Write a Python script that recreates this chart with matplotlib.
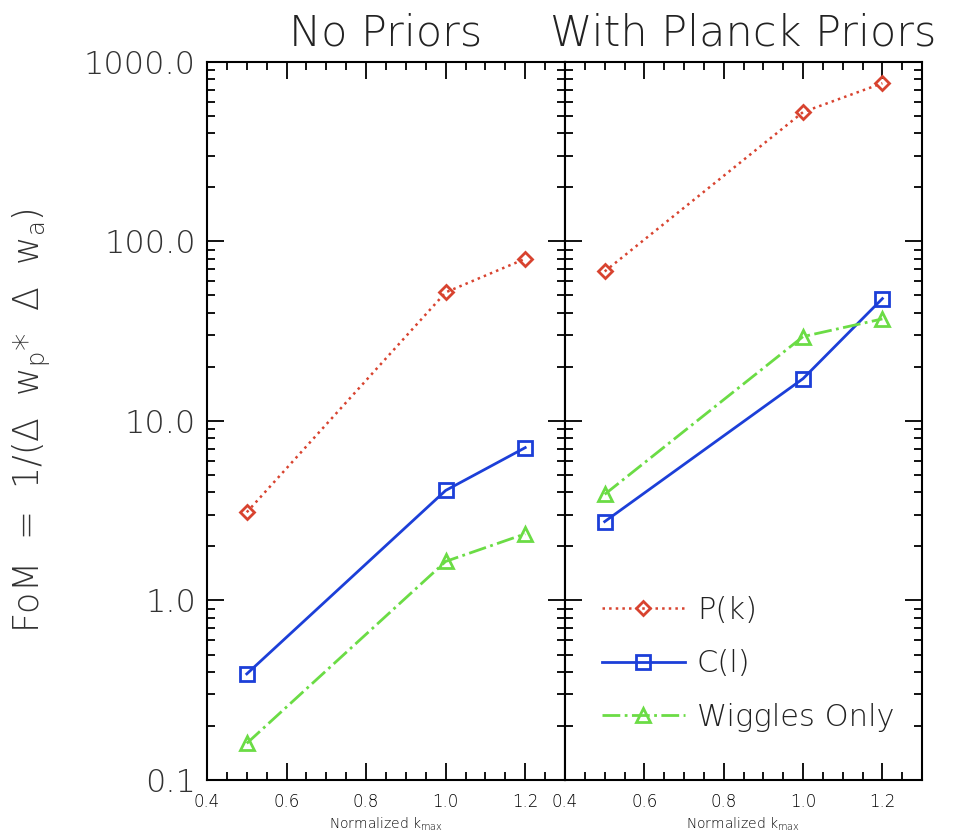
import matplotlib.pyplot as plt
import numpy as np
from matplotlib.ticker import FixedLocator, FormatStrFormatter, LogLocator, NullFormatter

plt.rcParams['font.family'] = ['DejaVu Sans']
plt.rcParams['font.weight'] = 'light'
plt.rcParams['axes.titleweight'] = 'light'
plt.rcParams['axes.labelweight'] = 'light'
plt.rcParams['mathtext.fontset'] = 'custom'
plt.rcParams['mathtext.rm'] = 'DejaVu Sans:light'
plt.rcParams['mathtext.it'] = 'DejaVu Sans:light'

kmax = [0.5, 1.0, 1.2]

# No priors
pk_none = [3.1, 52.0, 80.0]
cl_none = [0.39, 4.1, 7.1]
wig_none = [0.16, 1.65, 2.35]

# With Planck priors
pk_planck = [68.0, 525.0, 760.0]
cl_planck = [2.75, 17.2, 48.0]
wig_planck = [3.9, 29.5, 37.0]

titles = ['No Priors', 'With Planck Priors']
xticks = [0.4, 0.6, 0.8, 1.0, 1.2]

red = '#d8432f'
blue = '#1c3fd8'
green = '#6bdc45'
txt = '#333333'

fig = plt.figure(figsize=(9.57, 8.39), dpi=100)
ax1 = fig.add_axes([0.2163, 0.0703, 0.3741, 0.856])
ax2 = fig.add_axes([0.5904, 0.0703, 0.3731, 0.856])

series = [(pk_none, cl_none, wig_none), (pk_planck, cl_planck, wig_planck)]

for i, ax in enumerate([ax1, ax2]):
    pk, cl, wig = series[i]
    ax.plot(kmax, pk, ':', color=red, lw=1.8, marker='D', ms=7, mfc='none', mew=2, label='P(k)')
    ax.plot(kmax, cl, '-', color=blue, lw=2, marker='s', ms=10, mfc='none', mew=2, label='C(l)')
    ax.plot(kmax, wig, '-.', color=green, lw=2, marker='^', ms=10, mfc='none', mew=2, label='Wiggles Only')
    ax.set_yscale('log')
    ax.set_ylim(0.1, 1000)
    ax.set_xlim(0.4, 1.3)
    ax.xaxis.set_major_locator(FixedLocator(xticks))
    ax.xaxis.set_minor_locator(FixedLocator(np.arange(0.45, 1.3, 0.05)))
    ax.xaxis.set_major_formatter(FormatStrFormatter('%.1f'))
    ax.yaxis.set_minor_locator(LogLocator(base=10, subs=np.arange(2, 10)))
    ax.yaxis.set_minor_formatter(NullFormatter())
    ax.tick_params(which='both', direction='in', top=True, right=True, width=1.3, color='black',
                   labelcolor=txt)
    ax.tick_params(which='major', length=12)
    ax.tick_params(which='minor', length=6)
    ax.tick_params(axis='x', labelsize=12, pad=9, labelcolor='black')
    ax.tick_params(axis='y', labelsize=23, pad=8)
    for s in ax.spines.values():
        s.set_linewidth(1.5)
    ax.set_title(titles[i], fontsize=31, color='#222222', pad=12, fontweight='light')
    ax.set_xlabel('Normalized k$_{max}$', fontsize=10, labelpad=4, color='black')

ax1.yaxis.set_major_formatter(FormatStrFormatter('%.1f'))
ax2.tick_params(axis='y', labelleft=False)
ax1.set_ylabel('FoM  =  1/($\\Delta$  w$_{\\mathrm{p}}$*  $\\Delta$  w$_{\\mathrm{a}}$)', fontsize=25,
               color=txt, labelpad=22, fontweight='light')

leg = ax2.legend(loc='lower left', bbox_to_anchor=(0.07, 0.05), frameon=False, fontsize=22,
                 handlelength=2.7, labelspacing=0.8, handletextpad=0.4, borderaxespad=0)
for t in leg.get_texts():
    t.set_color('#222222')

fig.savefig('out.png', dpi=100)
